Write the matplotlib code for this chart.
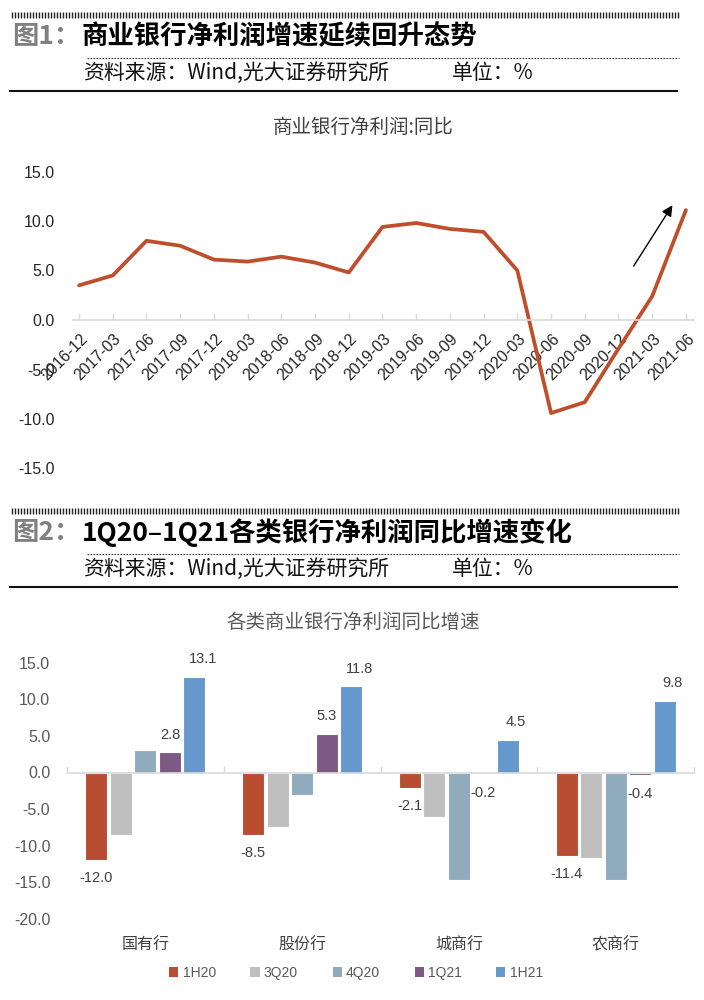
import numpy as np
import matplotlib
matplotlib.use('Agg')
import matplotlib.pyplot as plt
import matplotlib.transforms as mtransforms
from matplotlib.patches import Patch

plt.rcParams['font.family'] = ['Liberation Sans', 'Noto Sans CJK SC', 'DejaVu Sans']
CJK = ['Noto Sans CJK SC', 'DejaVu Sans']

# ---------------- data ----------------
periods = ['2016-12', '2017-03', '2017-06', '2017-09', '2017-12', '2018-03',
           '2018-06', '2018-09', '2018-12', '2019-03', '2019-06', '2019-09',
           '2019-12', '2020-03', '2020-06', '2020-09', '2020-12', '2021-03',
           '2021-06']
profit_yoy = [3.5, 4.5, 8.0, 7.5, 6.1, 5.9, 6.4, 5.8, 4.8, 9.4, 9.8, 9.2,
              8.9, 5.0, -9.4, -8.3, -2.9, 2.4, 11.1]

bank_types = ['国有行', '股份行', '城商行', '农商行']
series_names = ['1H20', '3Q20', '4Q20', '1Q21', '1H21']
h1_20 = [-12.0, -8.5, -2.1, -11.4]
q3_20 = [-8.5, -7.4, -6.1, -11.7]
q4_20 = [3.1, -3.1, -14.7, -14.7]
q1_21 = [2.8, 5.3, -0.2, -0.4]
h1_21 = [13.1, 11.8, 4.5, 9.8]
series_colors = ['#B84D31', '#BFBFBF', '#8FABBD', '#7D5A85', '#6598CD']

W, H = 704, 1000
fig = plt.figure(figsize=(W / 100, H / 100), dpi=100)

def fx(px):
    return px / W

def fy(py):
    return 1 - py / H

# ---------------- decoration overlay ----------------
deco = fig.add_axes([0, 0, 1, 1], zorder=-1)
deco.set_xlim(0, W)
deco.set_ylim(H, 0)
deco.axis('off')


def header(y_hatch, fig_label, title):
    deco.vlines(np.arange(12, 681, 3), y_hatch - 3, y_hatch + 3, color='#222222', lw=1.0)
    fig.text(fx(12), fy(y_hatch + 22), fig_label, fontsize=19, fontweight='heavy',
             color='#808080', va='center', ha='left', family=CJK)
    fig.text(fx(82), fy(y_hatch + 22), title, fontsize=19, fontweight='heavy',
             color='#000000', va='center', ha='left', family=CJK)
    deco.plot([87, 679], [y_hatch + 43, y_hatch + 43], color='#333333', lw=0.8,
              linestyle=(0, (1.5, 1.2)))
    fig.text(fx(83), fy(y_hatch + 58), '资料来源：Wind,光大证券研究所', fontsize=15,
             color='#111111', va='center', ha='left', family=CJK)
    fig.text(fx(452), fy(y_hatch + 58), '单位：%', fontsize=15,
             color='#111111', va='center', ha='left', family=CJK)
    deco.plot([10, 677], [y_hatch + 76, y_hatch + 76], color='#111111', lw=1.5)


header(15, '图1：', '商业银行净利润增速延续回升态势')
header(511, '图2：', '1Q20–1Q21各类银行净利润同比增速变化')

# ---------------- chart 1: line ----------------
ax1 = fig.add_axes([fx(73), fy(468.5), fx(694 - 73), (468.5 - 171.5) / H])
xs = np.arange(len(periods))
ax1.plot(xs, profit_yoy, color='#BF4E2C', lw=2.7, solid_capstyle='round')
ax1.set_xlim(-0.18, len(periods) - 1 + 0.24)
ax1.set_ylim(-15, 15)
ax1.set_yticks(np.arange(-15, 16, 5))
ax1.set_yticklabels([f'{v:.1f}' for v in np.arange(-15, 16, 5)])
for s in ['top', 'right', 'left']:
    ax1.spines[s].set_visible(False)
ax1.spines['bottom'].set_position(('data', 0))
ax1.spines['bottom'].set_color('#D9D9D9')
ax1.spines['bottom'].set_linewidth(1.2)
ax1.tick_params(axis='y', length=0, pad=13, labelsize=11.5, labelcolor='#262626')
ax1.set_xticks(xs)
ax1.set_xticklabels(periods, rotation=45, ha='right', va='center',
                    rotation_mode='anchor')
ax1.tick_params(axis='x', direction='in', length=5, color='#D9D9D9', width=1,
                labelsize=11.5, labelcolor='#262626', pad=2)
off = mtransforms.ScaledTranslation(6 / 100, -14 / 100, fig.dpi_scale_trans)
for lbl in ax1.get_xticklabels():
    lbl.set_transform(lbl.get_transform() + off)
ax1.annotate('', xy=(17.6, 11.6), xytext=(16.45, 5.45),
             arrowprops=dict(arrowstyle='-|>', color='black', lw=1.0,
                             mutation_scale=16, shrinkA=0, shrinkB=0))
fig.text(fx(363), fy(127), '商业银行净利润:同比', fontsize=14, color='#404040',
         ha='center', va='center', family=CJK)

# ---------------- chart 2: bars ----------------
ax2 = fig.add_axes([fx(67), fy(918.9), fx(627), (918.9 - 662.7) / H])
series_vals = [h1_20, q3_20, q4_20, q1_21, h1_21]
cx = np.arange(len(bank_types))
slot = 0.1563
bw = 0.14
handles = []
for i, (vals, col) in enumerate(zip(series_vals, series_colors)):
    ax2.bar(cx + (i - 2) * slot, vals, width=bw, color=col,
            edgecolor='white', linewidth=0.8, zorder=2)
    handles.append(Patch(facecolor=col, edgecolor='none'))

ax2.set_xlim(-0.5, len(bank_types) - 0.5)
ax2.set_ylim(-20, 15)
ax2.set_yticks(np.arange(-20, 16, 5))
ax2.set_yticklabels([f'{v:.1f}' for v in np.arange(-20, 16, 5)])
for s in ['top', 'right', 'left']:
    ax2.spines[s].set_visible(False)
ax2.spines['bottom'].set_position(('data', 0))
ax2.spines['bottom'].set_color('#D9D9D9')
ax2.spines['bottom'].set_linewidth(1.2)
ax2.spines['bottom'].set_zorder(3)
ax2.tick_params(axis='y', length=0, pad=12, labelsize=11.5, labelcolor='#595959')
ax2.set_xticks(np.arange(-0.5, len(bank_types), 1.0))
ax2.set_xticklabels([])
ax2.tick_params(axis='x', direction='in', length=5, color='#D9D9D9', width=1)

cat_tr = mtransforms.blended_transform_factory(ax2.transData, fig.transFigure)
for x, name in zip(cx, bank_types):
    ax2.text(x, fy(945), name, transform=cat_tr, ha='center', va='center',
             fontsize=11.5, color='#404040', family=CJK)

lab_kw = dict(textcoords='offset points', ha='center', va='center',
              fontsize=10.5, color='#404040')
for x, v in zip(cx - 2 * slot, h1_20):
    ax2.annotate(f'{v:.1f}', xy=(x, v), xytext=(0, -13), **lab_kw)
for x, v in zip(cx + 1 * slot, q1_21):
    ax2.annotate(f'{v:.1f}', xy=(x, v), xytext=(0, 12.5 if v > 0 else -13.5), **lab_kw)
for x, v in zip(cx + 2 * slot, h1_21):
    ax2.annotate(f'{v:.1f}', xy=(x, v), xytext=(6, 12.5), **lab_kw)

fig.text(fx(353), fy(622), '各类商业银行净利润同比增速', fontsize=14, color='#595959',
         ha='center', va='center', family=CJK)

fig.legend(handles, series_names, loc='center', bbox_to_anchor=(fx(356), fy(973)),
           ncol=5, frameon=False, fontsize=10, handlelength=0.65, handleheight=0.65,
           handletextpad=0.3, columnspacing=2.5, labelcolor='#595959')

fig.savefig('out.png', dpi=100)
